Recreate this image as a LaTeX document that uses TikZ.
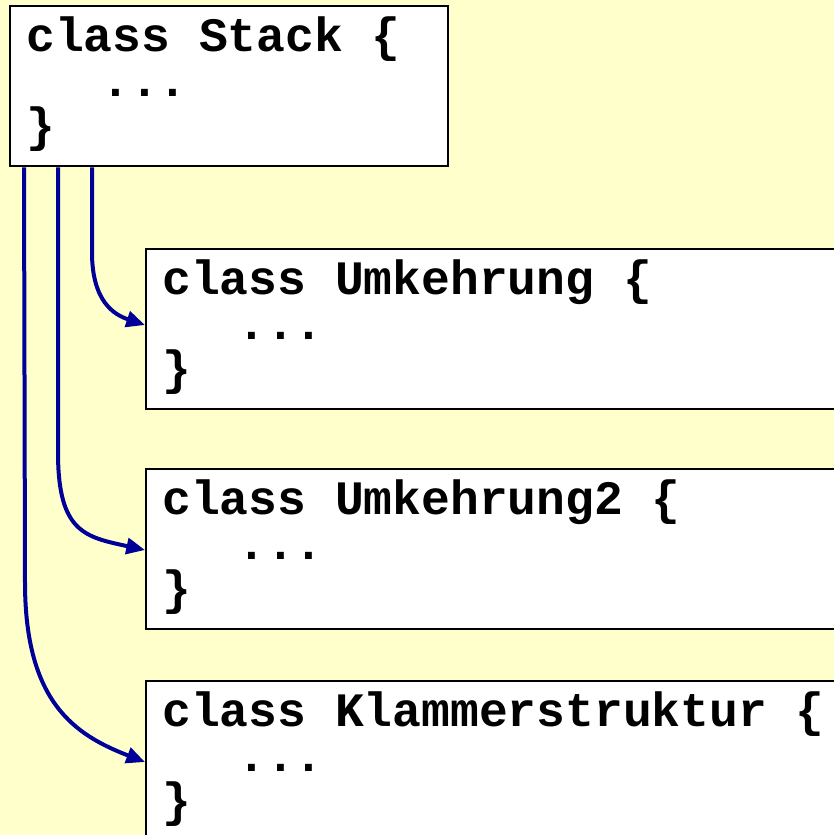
\documentclass[tikz,border=0pt]{standalone}
\usepackage{fontspec}
\setmonofont{Liberation Mono}
\usetikzlibrary{calc,arrows.meta}

\definecolor{paper}{HTML}{FFFFCC}
\definecolor{linkblue}{HTML}{000099}

\tikzset{
  box/.style={draw=black, fill=white, line width=1.8pt, anchor=north west, inner sep=0pt, minimum height=120pt},
  code/.style={anchor=base west, inner sep=0pt, font=\fontsize{36pt}{45pt}\ttfamily\bfseries},
  link/.style={draw=linkblue, line width=3pt, -{Triangle[length=14pt,width=12pt]}}
}

% #1 name, #2 x, #3 y, #4 width, #5 class name
\newcommand{\classbox}[5]{%
  \node[box, minimum width=#4*0.75pt] (#1) at (#2,#3) {};
  \node[code] (#1-head) at ($(#1.north west)+(17,46)$) {class #5 \{};
  \node[code] (#1-body) at ($(#1-head.base west)+(75,45)$) {...};
  \node[code] (#1-end) at ($(#1-head.base west)+(0,90)$) {\}};
}

\begin{document}
\begin{tikzpicture}[x=0.75pt, y=-0.75pt]
\useasboundingbox (0,0) rectangle (834,835);
\clip (0,0) rectangle (834,835);
\fill[paper] (0,0) rectangle (834,835);

\classbox{stack}{9}{5}{438}{Stack}
\classbox{umk}{145}{248}{760}{Umkehrung}
\classbox{umktwo}{145}{468}{760}{Umkehrung2}
\classbox{klammer}{145}{680}{760}{Klammerstruktur}

%\draw[step=50,gray,very thin] (0,0) grid (834,835);

\draw[link] ($(stack.south west)+(83,0)$) -- ++(0,85) .. controls +(0,50) and +(-30,-10) .. ($(umk.north west)+(0,77)$);
\draw[link] ($(stack.south west)+(49,0)$) -- ++(0,285) .. controls +(0,80) and +(-60,-13) .. ($(umktwo.north west)+(0,82)$);
\draw[link] ($(stack.south west)+(15,0)$) -- ++(1,415) .. controls +(0,120) and +(-70,-27) .. ($(klammer.north west)+(0,82)$);

\end{tikzpicture}
\end{document}
